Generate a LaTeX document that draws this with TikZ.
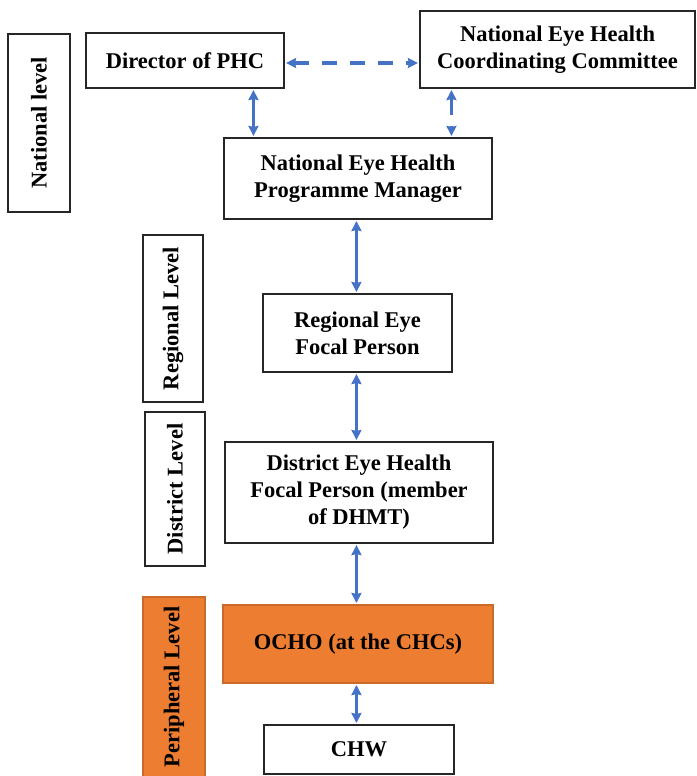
\documentclass[tikz,border=0pt]{standalone}
\usepackage{fontspec}
\setmainfont{Liberation Serif}
\usetikzlibrary{arrows.meta}
\definecolor{lvlorange}{RGB}{237,125,49}
\definecolor{linkblue}{RGB}{68,114,196}

\begin{document}
\begin{tikzpicture}[x=1pt,y=-1pt,
  box/.style={draw=black!85,line width=1.1pt,inner sep=0pt,align=center,
    font=\fontsize{22.5}{27}\selectfont\bfseries},
  lvl/.style={box,rotate=90},
  hot/.style={fill=lvlorange,draw=lvlorange!85!black},
  link/.style={linkblue,line width=2.6pt,
    {Stealth[length=10pt,width=10pt,inset=1pt]}-{Stealth[length=10pt,width=10pt,inset=1pt]},
    shorten <=1.5pt,shorten >=1.5pt},
  dlink/.style={link,line width=3.6pt,dash pattern=on 15pt off 13pt}]
  \useasboundingbox (0,0) rectangle (696,776);
  \node[lvl,minimum width=178pt,minimum height=62pt] (natl) at (39,123) {National level};
  \node[lvl,minimum width=167pt,minimum height=60pt] (regl) at (173,318.5) {Regional Level};
  \node[lvl,minimum width=154pt,minimum height=60pt] (distl) at (175,489) {District Level};
  \node[lvl,hot,minimum width=180pt,minimum height=62pt] (peril) at (174,687) {Peripheral Level};
  \node[box,minimum width=198pt,minimum height=55pt] (dir) at (185,60.5) {Director of PHC};
  \node[box,minimum width=275pt,minimum height=77pt] (nehcc) at (557.5,49.5) {National Eye Health\\Coordinating Committee};
  \node[box,minimum width=268pt,minimum height=81pt] (nehpm) at (358,178.5) {National Eye Health\\Programme Manager};
  \node[box,minimum width=189pt,minimum height=78pt] (reg) at (357.5,333) {Regional Eye\\Focal Person};
  \node[box,minimum width=268pt,minimum height=101pt] (dist) at (359,492.5) {District Eye Health\\Focal Person (member\\of DHMT)};
  \node[box,hot,minimum width=270pt,minimum height=78pt] (ocho) at (358,644) {OCHO (at the CHCs)};
  \node[box,minimum width=190pt,minimum height=49pt] (chw) at (359,749.5) {CHW};
  \coordinate (p1) at ([xshift=30pt]nehpm.north west);
  \coordinate (p2) at ([xshift=32pt]nehcc.south west);
  \coordinate (p3) at ([yshift=-2.5pt]dir.east);
  \coordinate (p4) at ([xshift=133pt]nehpm.south west);
  \draw[dlink] (p3) -- (p3 -| nehcc.west);
  \draw[link] (p1) -- (p1 |- dir.south);
  \draw[link,dash pattern=on 17pt off 11pt] (p2) -- (p2 |- nehpm.north);
  \draw[link] (p4) -- (p4 |- reg.north);
  \draw[link] (p4 |- reg.south) -- (p4 |- dist.north);
  \draw[link] (p4 |- ocho.north) -- (p4 |- dist.south);
  \draw[link] (p4 |- ocho.south) -- (p4 |- chw.north);
\end{tikzpicture}
\end{document}
